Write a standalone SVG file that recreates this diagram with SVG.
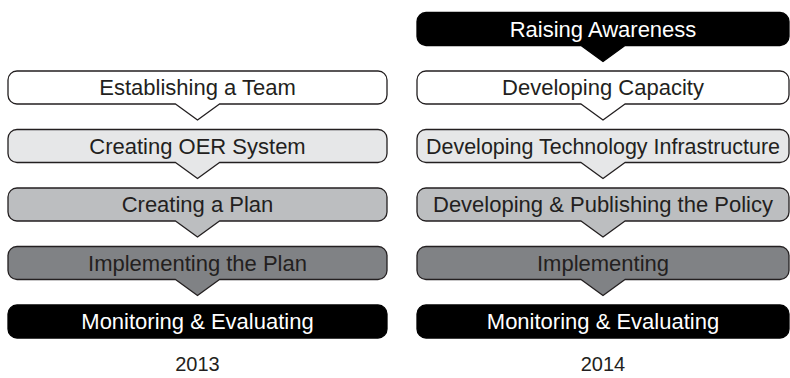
<svg xmlns="http://www.w3.org/2000/svg" width="790" height="378" viewBox="0 0 790 378">
  <style>
    .box { stroke: #231f20; stroke-width: 1.3; stroke-linejoin: round; }
    .w { fill: #ffffff; }
    .l { fill: #e6e7e8; }
    .m { fill: #bcbec0; }
    .d { fill: #808285; }
    .k { fill: #000000; stroke: #000000; }
    .t { font-family: "Liberation Sans", Arial, Helvetica, sans-serif; font-size: 22px; text-anchor: middle; fill: #231f20; }
    .tw { fill: #ffffff; }
    .yr { font-family: "Liberation Sans", Arial, Helvetica, sans-serif; font-size: 20px; text-anchor: middle; fill: #231f20; }
  </style>
  <rect width="790" height="378" fill="#ffffff"/>

  <!-- 2013 column -->
  <g id="n2013-1">
    <path class="box w" d="M17,71 H378 A9,9 0 0 1 387,80 V95 A9,9 0 0 1 378,104 H219.5 L197.5,120 L175.5,104 H17 A9,9 0 0 1 8,95 V80 A9,9 0 0 1 17,71 Z"/>
    <text class="t" x="197.5" y="95">Establishing a Team</text>
  </g>
  <g id="n2013-2">
    <path class="box l" d="M17,129.5 H378 A9,9 0 0 1 387,138.5 V153.5 A9,9 0 0 1 378,162.5 H219.5 L197.5,178.5 L175.5,162.5 H17 A9,9 0 0 1 8,153.5 V138.5 A9,9 0 0 1 17,129.5 Z"/>
    <text class="t" x="197.5" y="153.5">Creating OER System</text>
  </g>
  <g id="n2013-3">
    <path class="box m" d="M17,188 H378 A9,9 0 0 1 387,197 V212 A9,9 0 0 1 378,221 H219.5 L197.5,237 L175.5,221 H17 A9,9 0 0 1 8,212 V197 A9,9 0 0 1 17,188 Z"/>
    <text class="t" x="197.5" y="212">Creating a Plan</text>
  </g>
  <g id="n2013-4">
    <path class="box d" d="M17,246.5 H378 A9,9 0 0 1 387,255.5 V270.5 A9,9 0 0 1 378,279.5 H219.5 L197.5,295.5 L175.5,279.5 H17 A9,9 0 0 1 8,270.5 V255.5 A9,9 0 0 1 17,246.5 Z"/>
    <text class="t" x="197.5" y="270.5">Implementing the Plan</text>
  </g>
  <g id="n2013-5">
    <rect class="box k" x="8" y="305" width="379" height="33" rx="9" ry="9"/>
    <text class="t tw" x="197.5" y="329">Monitoring &amp; Evaluating</text>
  </g>
  <text id="label-2013" class="yr" x="197.5" y="371">2013</text>

  <!-- 2014 column -->
  <g id="n2014-1">
    <path class="box k" d="M426,12.5 H780 A9,9 0 0 1 789,21.5 V36.5 A9,9 0 0 1 780,45.5 H625 L603,61.5 L581,45.5 H426 A9,9 0 0 1 417,36.5 V21.5 A9,9 0 0 1 426,12.5 Z"/>
    <text class="t tw" x="603" y="36.5">Raising Awareness</text>
  </g>
  <g id="n2014-2">
    <path class="box w" d="M426,71 H780 A9,9 0 0 1 789,80 V95 A9,9 0 0 1 780,104 H625 L603,120 L581,104 H426 A9,9 0 0 1 417,95 V80 A9,9 0 0 1 426,71 Z"/>
    <text class="t" x="603" y="95">Developing Capacity</text>
  </g>
  <g id="n2014-3">
    <path class="box l" d="M426,129.5 H780 A9,9 0 0 1 789,138.5 V153.5 A9,9 0 0 1 780,162.5 H625 L603,178.5 L581,162.5 H426 A9,9 0 0 1 417,153.5 V138.5 A9,9 0 0 1 426,129.5 Z"/>
    <text class="t" x="603" y="153.5" textLength="354" lengthAdjust="spacingAndGlyphs">Developing Technology Infrastructure</text>
  </g>
  <g id="n2014-4">
    <path class="box m" d="M426,188 H780 A9,9 0 0 1 789,197 V212 A9,9 0 0 1 780,221 H625 L603,237 L581,221 H426 A9,9 0 0 1 417,212 V197 A9,9 0 0 1 426,188 Z"/>
    <text class="t" x="603" y="212">Developing &amp; Publishing the Policy</text>
  </g>
  <g id="n2014-5">
    <path class="box d" d="M426,246.5 H780 A9,9 0 0 1 789,255.5 V270.5 A9,9 0 0 1 780,279.5 H625 L603,295.5 L581,279.5 H426 A9,9 0 0 1 417,270.5 V255.5 A9,9 0 0 1 426,246.5 Z"/>
    <text class="t" x="603" y="270.5">Implementing</text>
  </g>
  <g id="n2014-6">
    <rect class="box k" x="417" y="305" width="372" height="33" rx="9" ry="9"/>
    <text class="t tw" x="603" y="329">Monitoring &amp; Evaluating</text>
  </g>
  <text id="label-2014" class="yr" x="603" y="371">2014</text>

  <!-- connectors: the downward pointers are drawn as part of each node outline -->
  <g id="connectors"/>
</svg>
